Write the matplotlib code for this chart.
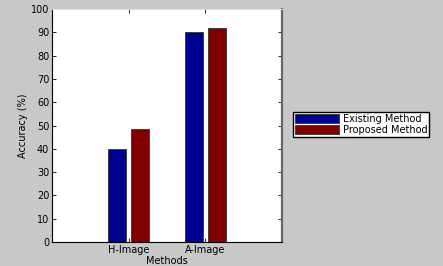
import numpy as np
import matplotlib.pyplot as plt

categories = ['H-Image', 'A-Image']
existing = [40, 90]
proposed = [48.5, 92]
series_names = ['Existing Method', 'Proposed Method']

fig = plt.figure(figsize=(4.43, 2.66), dpi=100, facecolor='#c8c8c8')
ax = fig.add_axes([52 / 443, 24 / 266, 230 / 443, 233 / 266])

x = np.arange(1, len(categories) + 1)
w = 0.23
ax.bar(x - 0.15, existing, w, color='#00008f', edgecolor='#333333', linewidth=0.6,
       label=series_names[0])
ax.bar(x + 0.15, proposed, w, color='#800000', edgecolor='#333333', linewidth=0.6,
       label=series_names[1])

ax.set_xlim(0, 3)
ax.set_ylim(0, 100)
ax.set_yticks(range(0, 101, 10))
ax.set_xticks(x)
ax.set_xticklabels(categories)
ax.tick_params(labelsize=7, direction='in', length=3, width=0.6, pad=2,
               top=True, right=True)
ax.set_xlabel('Methods', fontsize=7, labelpad=1)
ax.set_ylabel('Accuracy (%)', fontsize=7, labelpad=2)
for s in ax.spines.values():
    s.set_linewidth(0.8)
ax.spines['top'].set_color('#e0e0e0')
ax.spines['right'].set_color('#666666')
ax.spines['right'].set_linewidth(1.6)

ax.legend(loc='upper left', bbox_to_anchor=(293 / 443, 1 - 112 / 266),
          bbox_transform=fig.transFigure, fontsize=7, frameon=True,
          fancybox=False, edgecolor='black', framealpha=1,
          handlelength=4.5, handleheight=1.1, borderpad=0.2,
          labelspacing=0.1, handletextpad=0.4, borderaxespad=0)

fig.savefig('out.png', dpi=100, facecolor=fig.get_facecolor())
